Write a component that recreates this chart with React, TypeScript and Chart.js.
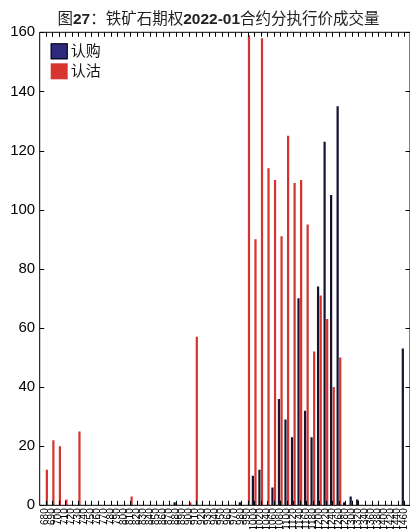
import React, { useEffect, useRef } from 'react';
import { Chart, registerables } from 'chart.js';

Chart.register(...registerables);

// Strike prices (categories)
const strikes = [
  '680', '690', '700', '710', '720', '730', '740', '750', '760', '770',
  '780', '790', '800', '810', '820', '830', '840', '850', '860', '870',
  '880', '890', '900', '910', '920', '930', '940', '950', '960', '970',
  '980', '990', '1000', '1020', '1040', '1060', '1080', '1100', '1120', '1140',
  '1160', '1180', '1200', '1220', '1240', '1260', '1280', '1300', '1320', '1340',
  '1360', '1380', '1400', '1420', '1440', '1460',
];

// 认购 (call) volume
const callVolume = [
  0, 0, 0, 0, 0, 0, 0, 0, 0, 0,
  0, 0, 0, 0, 0, 0, 0, 0, 0, 0,
  1, 0, 0, 0, 0, 0, 0, 0, 0, 0,
  1, 0, 10, 12, 0, 6, 36, 29, 23, 70,
  32, 23, 74, 123, 105, 135, 1, 3, 2, 0,
  0, 0, 0, 0, 0, 53,
];

// 认沽 (put) volume
const putVolume = [
  12, 22, 20, 2, 0, 25, 0, 0, 0, 0,
  0, 0, 0, 3, 0, 0, 0, 0, 0, 0,
  0, 0, 1, 57, 0, 0, 0, 0, 0, 0,
  0, 159, 90, 158, 114, 110, 91, 125, 109, 110,
  95, 52, 71, 63, 40, 50, 0, 0, 0, 0,
  0, 0, 0, 0, 0, 0,
];

const yTickValues = [0, 20, 40, 60, 80, 100, 120, 140, 160];

const seriesNames = ['认购', '认沽'];

const titleParts = [
  { text: '图', bold: false },
  { text: '27', bold: true },
  { text: '：铁矿石期权', bold: false },
  { text: '2022-01', bold: true },
  { text: '合约分执行价成交量', bold: false },
];

const FONT = '"Liberation Sans", "Noto Sans CJK SC", sans-serif';
const legendColors = ['#2e2a7e', '#d6362f'];

const boxTicksPlugin = {
  id: 'boxTicks',
  afterDatasetsDraw(chart: any) {
    const { ctx, chartArea: a, scales } = chart;
    const xs = scales.x;
    const ys = scales.y;
    const L = 4.5;
    ctx.save();
    ctx.strokeStyle = '#000';
    ctx.lineWidth = 1;
    ctx.beginPath();
    xs.ticks.forEach((t: any) => {
      const px = Math.round(xs.getPixelForValue(t.value)) + 0.5;
      ctx.moveTo(px, a.bottom);
      ctx.lineTo(px, a.bottom - L);
      ctx.moveTo(px, a.top);
      ctx.lineTo(px, a.top + L);
    });
    ys.ticks.forEach((t: any) => {
      const py = Math.round(ys.getPixelForValue(t.value)) + 0.5;
      ctx.moveTo(a.left, py);
      ctx.lineTo(a.left + L, py);
      ctx.moveTo(a.right, py);
      ctx.lineTo(a.right - L, py);
    });
    ctx.stroke();
    ctx.beginPath();
    ctx.moveTo(a.left, a.top);
    ctx.lineTo(a.right, a.top);
    ctx.lineTo(a.right, a.bottom);
    ctx.lineTo(a.left, a.bottom);
    ctx.closePath();
    ctx.stroke();
    ctx.restore();
  },
};

const titlePlugin = {
  id: 'mixedTitle',
  afterDraw(chart: any) {
    const { ctx } = chart;
    ctx.save();
    ctx.textBaseline = 'middle';
    ctx.fillStyle = '#222';
    const fonts = titleParts.map((p) => `${p.bold ? 'bold ' : ''}15.5px ${FONT}`);
    let total = 0;
    const widths = titleParts.map((p, i) => {
      ctx.font = fonts[i];
      const w = ctx.measureText(p.text).width;
      total += w;
      return w;
    });
    let x = 218.5 - total / 2;
    titleParts.forEach((p, i) => {
      ctx.font = fonts[i];
      ctx.textAlign = 'left';
      ctx.fillText(p.text, x, 20);
      x += widths[i];
    });
    ctx.restore();
  },
};

const legendPlugin = {
  id: 'insideLegend',
  afterDraw(chart: any) {
    const { ctx, chartArea: a } = chart;
    ctx.save();
    chart.data.datasets.forEach((ds: any, i: number) => {
      const x = a.left + 11;
      const y = a.top + 11 + i * 20;
      ctx.fillStyle = legendColors[i];
      ctx.fillRect(x, y, 17, 16);
      if (i === 0) {
        ctx.strokeStyle = '#000';
        ctx.lineWidth = 1;
        ctx.strokeRect(x + 0.5, y + 0.5, 16, 15);
      }
      ctx.fillStyle = '#111';
      ctx.font = `15px ${FONT}`;
      ctx.textBaseline = 'middle';
      ctx.textAlign = 'left';
      ctx.fillText(ds.label, x + 20, y + 8.5);
    });
    ctx.restore();
  },
};

export default function App() {
  const canvasRef = useRef<HTMLCanvasElement | null>(null);

  useEffect(() => {
    if (!canvasRef.current) return;
    const chart = new Chart(canvasRef.current, {
      type: 'bar',
      data: {
        datasets: [
          {
            label: seriesNames[0],
            data: callVolume.map((v, i) => ({ x: i, y: v })),
            backgroundColor: '#141430',
            borderWidth: 0,
            categoryPercentage: 0.8,
            barPercentage: 0.85,
          },
          {
            label: seriesNames[1],
            data: putVolume.map((v, i) => ({ x: i, y: v })),
            backgroundColor: '#d6332f',
            borderWidth: 0,
            categoryPercentage: 0.8,
            barPercentage: 0.85,
          },
        ],
      },
      options: {
        animation: false,
        responsive: false,
        layout: { padding: { top: 32.3, right: -0.5, left: 0, bottom: 0 } },
        plugins: {
          legend: { display: false },
          title: { display: false },
          tooltip: { enabled: false },
        },
        scales: {
          x: {
            type: 'linear',
            min: -0.9,
            max: 55.9,
            offset: false,
            afterBuildTicks: (s: any) => {
              s.ticks = strikes.map((_, i) => ({ value: i }));
            },
            afterFit: (s: any) => {
              s.height = 23.7;
              s.paddingLeft = 0;
              s.paddingRight = 0;
            },
            grid: { display: false, drawTicks: false },
            border: { display: false },
            ticks: {
              autoSkip: false,
              maxRotation: 90,
              minRotation: 90,
              padding: 3,
              color: '#000',
              font: { size: 10, family: FONT },
              callback: (v: any) => strikes[Math.round(Number(v))] ?? '',
            },
          },
          y: {
            min: 0,
            max: 160,
            afterBuildTicks: (s: any) => {
              s.ticks = yTickValues.map((v) => ({ value: v }));
            },
            afterFit: (s: any) => {
              s.width = 39.7;
              s.paddingTop = 0;
              s.paddingBottom = 0;
            },
            grid: { display: false, drawTicks: false },
            border: { display: false },
            ticks: {
              padding: 4.5,
              color: '#000',
              font: { size: 15, family: FONT },
              callback: (v: any) => String(v),
            },
          },
        },
      } as any,
      plugins: [boxTicksPlugin, titlePlugin, legendPlugin],
    });
    return () => chart.destroy();
  }, []);

  return (
    <div style={{ position: 'absolute', left: 0, top: 0, width: 410, height: 529, background: '#fff' }}>
      <canvas ref={canvasRef} width={410} height={529} style={{ width: 410, height: 529, display: 'block' }} />
    </div>
  );
}
